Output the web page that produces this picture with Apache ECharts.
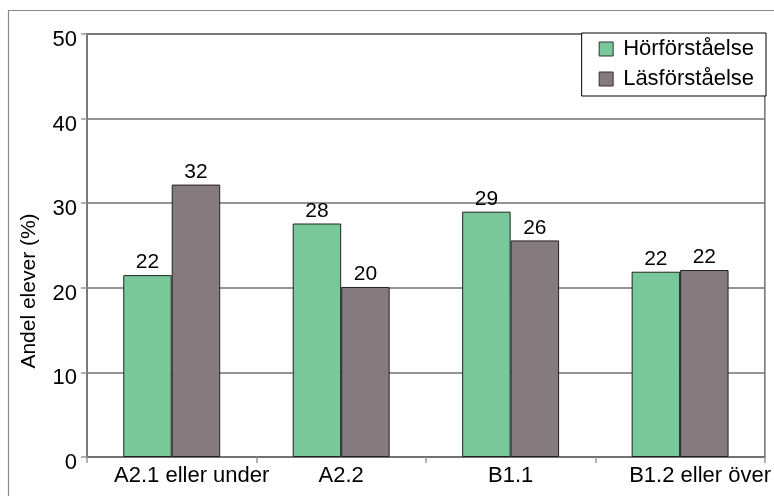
<!DOCTYPE html>
<html>
<head>
<meta charset="utf-8">
<script src="https://cdn.jsdelivr.net/npm/echarts@6/dist/echarts.min.js"></script>
<style>
  html, body { margin: 0; padding: 0; background: #fff; }
  #chart { width: 774px; height: 496px; }
</style>
</head>
<body>
<div id="chart"></div>
<script>
// Nivåer och andel elever per färdighet
const categories = ['A2.1 eller under', 'A2.2', 'B1.1', 'B1.2 eller över'];
const horforstaelse = [21.5, 27.6, 29.0, 21.9];
const lasforstaelse = [32.2, 20.1, 25.6, 22.1];
const yTicks = [0, 10, 20, 30, 40, 50];

const FONT = '"Liberation Sans", Arial, Helvetica, sans-serif';

// Long category names sit a little right of their category centre
const categoryItems = categories.map(name => (
  name.length > 6
    ? { value: name, textStyle: { padding: [0, 0, 0, 40] } }
    : { value: name }
));

const chart = echarts.init(document.getElementById('chart'), null, { renderer: 'canvas' });

const barLabel = {
  show: true,
  position: 'top',
  distance: 2,
  color: '#000',
  fontFamily: FONT,
  fontSize: 21,
  formatter: p => String(Math.round(p.value))
};

chart.setOption({
  animation: false,
  backgroundColor: '#fff',
  textStyle: { fontFamily: FONT },
  grid: {
    left: 87, right: 9, top: 34, bottom: 39,
    show: true, borderColor: '#707070', borderWidth: 1.5
  },
  legend: {
    orient: 'vertical',
    right: 8, top: 33,
    backgroundColor: '#fff',
    borderColor: '#000', borderWidth: 1,
    padding: [5, 12, 6, 17],
    icon: 'rect',
    itemWidth: 14, itemHeight: 14, itemGap: 8,
    itemStyle: { borderColor: '#333', borderWidth: 1 },
    textStyle: { fontFamily: FONT, fontSize: 22, color: '#000', padding: [0, 0, 0, 5] },
    data: ['Hörförståelse', 'Läsförståelse']
  },
  xAxis: {
    type: 'category',
    data: categoryItems,
    axisLine: { lineStyle: { color: '#707070', width: 1.5 } },
    axisTick: { show: true, length: 6, lineStyle: { color: '#999', width: 1.5 } },
    axisLabel: { color: '#000', fontFamily: FONT, fontSize: 22, margin: 8, interval: 0 }
  },
  yAxis: {
    type: 'value',
    min: yTicks[0], max: yTicks[yTicks.length - 1], interval: 10,
    axisLine: { show: true, lineStyle: { color: '#707070', width: 1.5 } },
    axisTick: { show: true, length: 6, lineStyle: { color: '#999', width: 1.5 } },
    axisLabel: {
      color: '#000', fontFamily: FONT, fontSize: 22, margin: 10,
      verticalAlign: 'top', lineHeight: 12
    },
    splitLine: { show: true, lineStyle: { color: '#707070', width: 1.5 } }
  },
  graphic: [
    {
      type: 'rect',
      shape: { x: 8.5, y: 10.5, width: 800, height: 520 },
      style: { fill: 'none', stroke: '#8a8a8a', lineWidth: 1.2 },
      silent: true, z: -10
    },
    {
      type: 'text',
      x: 29, y: 291,
      rotation: Math.PI / 2,
      style: {
        text: 'Andel elever (%)',
        fontFamily: FONT, fontSize: 21, fill: '#000',
        align: 'center', verticalAlign: 'middle'
      }
    }
  ],
  series: [
    {
      name: 'Hörförståelse',
      type: 'bar',
      data: horforstaelse,
      barWidth: '28.6%',
      barGap: '0%',
      itemStyle: { color: '#78c89a', borderColor: '#222', borderWidth: 1 },
      label: barLabel
    },
    {
      name: 'Läsförståelse',
      type: 'bar',
      data: lasforstaelse,
      barWidth: '28.6%',
      barGap: '0%',
      itemStyle: { color: '#857a7d', borderColor: '#222', borderWidth: 1 },
      label: barLabel
    }
  ]
});
</script>
</body>
</html>
